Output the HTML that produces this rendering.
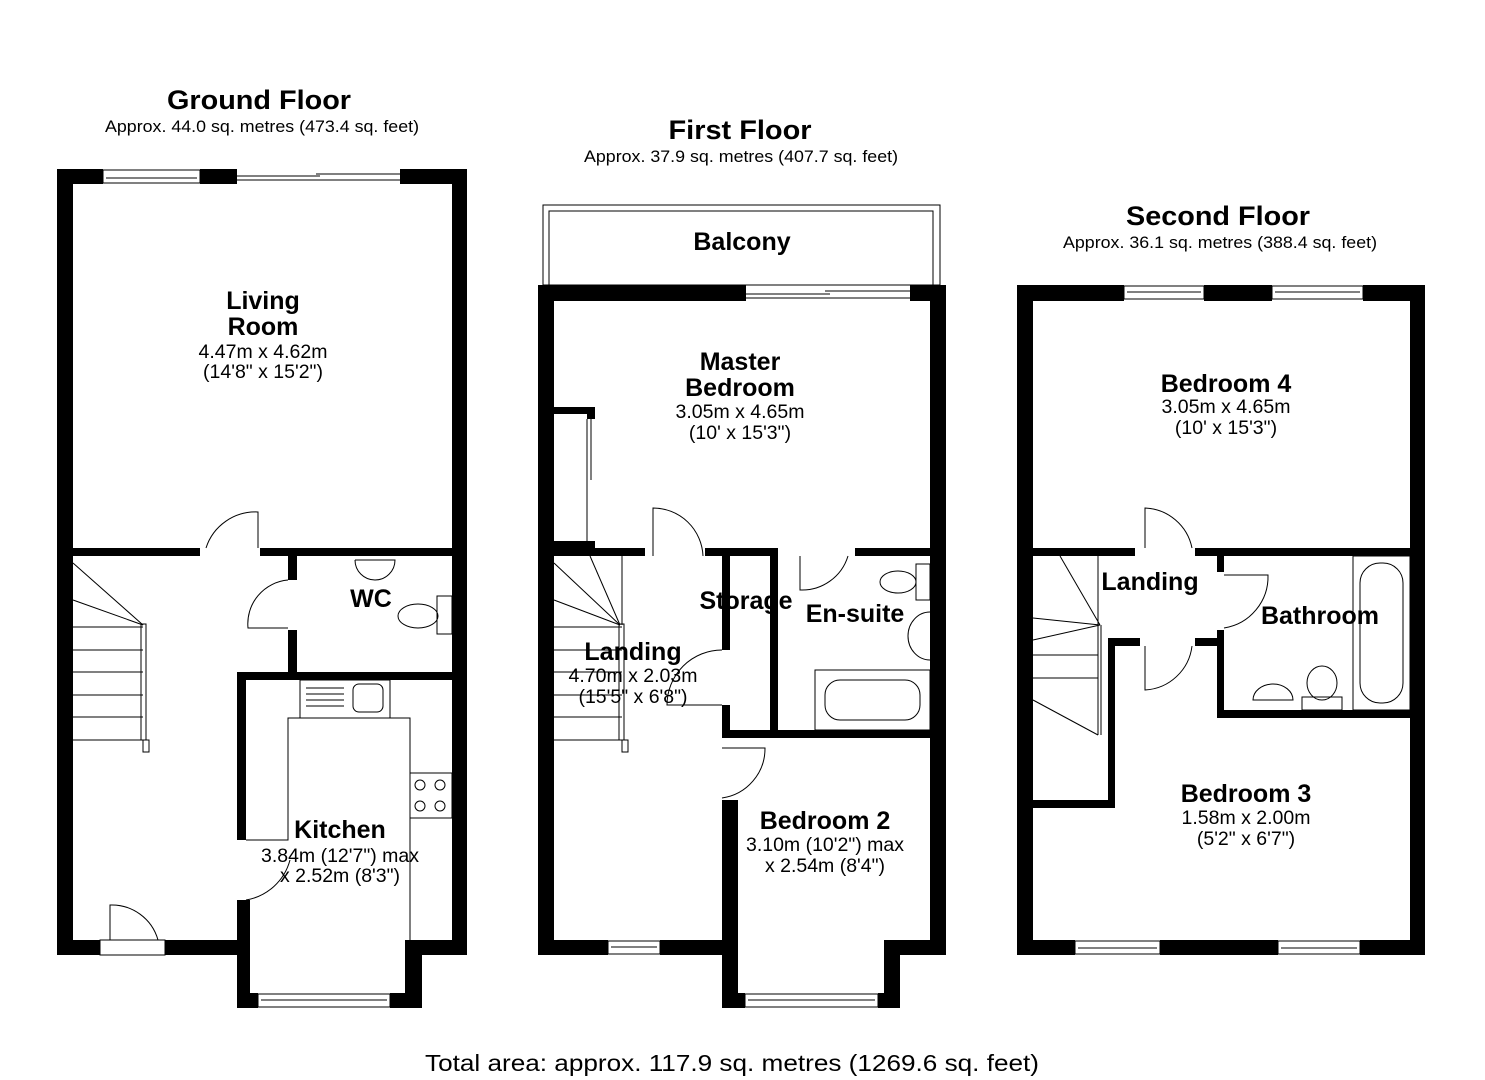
<!DOCTYPE html>
<html><head><meta charset="utf-8"><style>
body{margin:0;background:#fff}
svg{display:block}
text{font-family:"Liberation Sans",Arial,sans-serif;text-anchor:middle;fill:#000}
.t{font-weight:bold;font-size:27px}
.s{font-size:16.5px}
.r{font-weight:bold;font-size:25px}
.d{font-size:19.5px}
.w{fill:#000}
.ln{fill:none;stroke:#000;stroke-width:1}
.win{fill:#fff;stroke:#000;stroke-width:1}
</style></head><body>
<svg width="1485" height="1080" viewBox="0 0 1485 1080" xmlns="http://www.w3.org/2000/svg">
<!-- Titles -->
<text class="t" x="259" y="109" textLength="184" lengthAdjust="spacingAndGlyphs">Ground Floor</text>
<text class="s" x="262" y="132" textLength="314" lengthAdjust="spacingAndGlyphs">Approx. 44.0 sq. metres (473.4 sq. feet)</text>
<text class="t" x="740" y="139" textLength="143" lengthAdjust="spacingAndGlyphs">First Floor</text>
<text class="s" x="741" y="162" textLength="314" lengthAdjust="spacingAndGlyphs">Approx. 37.9 sq. metres (407.7 sq. feet)</text>
<text class="t" x="1218" y="225" textLength="184" lengthAdjust="spacingAndGlyphs">Second Floor</text>
<text class="s" x="1220" y="248" textLength="314" lengthAdjust="spacingAndGlyphs">Approx. 36.1 sq. metres (388.4 sq. feet)</text>
<text x="732" y="1071" style="font-size:23px" textLength="614" lengthAdjust="spacingAndGlyphs">Total area: approx. 117.9 sq. metres (1269.6 sq. feet)</text>

<!-- ================= GROUND FLOOR ================= -->
<g class="w">
<rect x="57" y="169" width="16" height="786"/>
<rect x="57" y="169" width="46" height="15"/>
<rect x="200" y="169" width="37" height="15"/>
<rect x="400" y="169" width="67" height="15"/>
<rect x="452" y="169" width="15" height="786"/>
<rect x="73" y="548" width="127" height="8"/>
<rect x="260" y="548" width="192" height="8"/>
<rect x="288" y="556" width="9" height="24"/>
<rect x="288" y="630" width="9" height="42"/>
<rect x="237" y="672" width="230" height="8"/>
<rect x="237" y="672" width="9" height="168"/>
<rect x="237" y="900" width="13" height="108"/>
<rect x="57" y="940" width="43" height="15"/>
<rect x="165" y="940" width="85" height="15"/>
<rect x="237" y="993" width="21" height="15"/>
<rect x="390" y="993" width="32" height="15"/>
<rect x="405" y="940" width="17" height="68"/>
<rect x="405" y="940" width="62" height="15"/>
</g>
<rect class="win" x="103" y="170" width="97" height="13"/><line class="ln" x1="106" y1="178" x2="197" y2="178"/>
<line class="ln" x1="237" y1="180" x2="400" y2="180"/><line class="ln" x1="237" y1="176" x2="320" y2="176"/><line class="ln" x1="316" y1="174" x2="400" y2="174"/>
<rect class="win" x="258" y="994" width="132" height="13"/><line class="ln" x1="261" y1="1000" x2="387" y2="1000"/>
<!-- doors GF -->
<path class="ln" d="M206 548 A52 52 0 0 1 258 512 L258 548"/>
<path class="ln" d="M288 580 A44 44 0 0 0 248 628 L288 628"/>
<path class="ln" d="M246 900 A55 55 0 0 0 290 860"/>
<path class="ln" d="M110 940 L110 905 A48 48 0 0 1 158 940"/>
<rect class="win" x="100" y="940" width="65" height="15"/>
<!-- stairs GF -->
<g class="ln">
<line x1="73" y1="627" x2="143" y2="627"/><line x1="73" y1="650" x2="143" y2="650"/><line x1="73" y1="672" x2="143" y2="672"/><line x1="73" y1="695" x2="143" y2="695"/><line x1="73" y1="717" x2="143" y2="717"/><line x1="73" y1="740" x2="143" y2="740"/>
<line x1="73" y1="563" x2="143" y2="625"/><line x1="73" y1="600" x2="143" y2="625"/>
<rect x="141" y="624" width="5" height="116"/><rect x="143" y="740" width="6" height="12"/>
</g>
<!-- WC fixtures -->
<path class="ln" d="M355 560 L395 560 A20 20 0 0 1 355 560"/>
<ellipse class="ln" cx="418" cy="616" rx="20" ry="12"/><rect class="ln" x="437" y="596" width="15" height="38"/>
<!-- Kitchen fixtures -->
<rect class="ln" x="300" y="680" width="90" height="38"/>
<rect class="ln" x="353" y="684" width="30" height="28" rx="6"/>
<g class="ln"><line x1="306" y1="688" x2="344" y2="688"/><line x1="306" y1="694" x2="344" y2="694"/><line x1="306" y1="700" x2="344" y2="700"/><line x1="306" y1="706" x2="344" y2="706"/></g>
<polyline class="ln" points="246,840 288,840 288,718 410,718 410,940"/>
<rect class="ln" x="410" y="773" width="42" height="45"/>
<circle class="ln" cx="420" cy="785" r="5"/><circle class="ln" cx="440" cy="785" r="5"/><circle class="ln" cx="420" cy="806" r="5"/><circle class="ln" cx="440" cy="806" r="5"/>
<text class="r" x="263" y="309">Living</text>
<text class="r" x="263" y="335">Room</text>
<text class="d" x="263" y="358">4.47m x 4.62m</text>
<text class="d" x="263" y="378">(14'8" x 15'2")</text>
<text class="r" x="371" y="607">WC</text>
<text class="r" x="340" y="838">Kitchen</text>
<text class="d" x="340" y="862">3.84m (12'7") max</text>
<text class="d" x="340" y="882">x 2.52m (8'3")</text>

<!-- ================= FIRST FLOOR ================= -->
<rect class="ln" x="543" y="205" width="397" height="80"/>
<polyline class="ln" points="549,285 549,211 933,211 933,285"/>
<g class="w">
<rect x="538" y="285" width="16" height="670"/>
<rect x="538" y="285" width="208" height="16"/>
<rect x="910" y="285" width="36" height="16"/>
<rect x="930" y="285" width="16" height="670"/>
<rect x="554" y="407" width="41" height="7"/>
<rect x="587" y="407" width="8" height="12"/>
<rect x="554" y="541" width="41" height="7"/>
<rect x="554" y="548" width="91" height="8"/>
<rect x="705" y="548" width="73" height="8"/>
<rect x="722" y="556" width="8" height="94"/>
<rect x="722" y="705" width="8" height="33"/>
<rect x="770" y="556" width="8" height="174"/>
<rect x="855" y="548" width="75" height="8"/>
<rect x="722" y="730" width="208" height="8"/>
<rect x="722" y="800" width="16" height="208"/>
<rect x="538" y="940" width="70" height="15"/>
<rect x="660" y="940" width="78" height="15"/>
<rect x="722" y="993" width="23" height="15"/>
<rect x="878" y="993" width="22" height="15"/>
<rect x="884" y="940" width="16" height="68"/>
<rect x="884" y="940" width="62" height="15"/>
</g>
<line class="ln" x1="746" y1="298" x2="910" y2="298"/><line class="ln" x1="746" y1="294" x2="830" y2="294"/><line class="ln" x1="825" y1="291" x2="910" y2="291"/>
<line class="ln" x1="587" y1="419" x2="587" y2="541"/><line class="ln" x1="591" y1="419" x2="591" y2="480"/>
<rect class="win" x="608" y="941" width="52" height="13"/><line class="ln" x1="611" y1="947" x2="657" y2="947"/>
<rect class="win" x="745" y="994" width="133" height="13"/><line class="ln" x1="748" y1="1000" x2="875" y2="1000"/>
<!-- doors FF -->
<path class="ln" d="M653 556 L653 508 A50 50 0 0 1 703 556"/>
<path class="ln" d="M800 556 L800 590 A48 48 0 0 0 848 556"/>
<path class="ln" d="M722 650 A55 55 0 0 0 667 705 L722 705"/>
<path class="ln" d="M722 748 L765 748 A50 50 0 0 1 722 798"/>
<!-- stairs FF -->
<g class="ln">
<line x1="554" y1="627" x2="622" y2="627"/><line x1="554" y1="650" x2="622" y2="650"/><line x1="554" y1="672" x2="622" y2="672"/><line x1="554" y1="695" x2="622" y2="695"/><line x1="554" y1="717" x2="622" y2="717"/><line x1="554" y1="740" x2="622" y2="740"/>
<line x1="554" y1="563" x2="620" y2="625"/><line x1="554" y1="600" x2="620" y2="625"/><line x1="590" y1="556" x2="620" y2="625"/>
<rect x="619" y="624" width="5" height="116"/><rect x="622" y="740" width="6" height="12"/>
<line x1="622" y1="556" x2="622" y2="625"/>
</g>
<!-- en-suite fixtures -->
<ellipse class="ln" cx="898" cy="582" rx="18" ry="11"/><rect class="ln" x="916" y="564" width="14" height="36"/>
<path class="ln" d="M930 612 A22 24 0 0 0 930 660"/>
<rect class="ln" x="815" y="670" width="115" height="60"/>
<rect class="ln" x="825" y="680" width="95" height="40" rx="15"/>
<text class="r" x="742" y="250">Balcony</text>
<text class="r" x="740" y="370">Master</text>
<text class="r" x="740" y="396">Bedroom</text>
<text class="d" x="740" y="418">3.05m x 4.65m</text>
<text class="d" x="740" y="439">(10' x 15'3")</text>
<text class="r" x="746" y="609">Storage</text>
<text class="r" x="855" y="622">En-suite</text>
<text class="r" x="633" y="660">Landing</text>
<text class="d" x="633" y="682">4.70m x 2.03m</text>
<text class="d" x="633" y="703">(15'5" x 6'8")</text>
<text class="r" x="825" y="829">Bedroom 2</text>
<text class="d" x="825" y="851">3.10m (10'2") max</text>
<text class="d" x="825" y="872">x 2.54m (8'4")</text>

<!-- ================= SECOND FLOOR ================= -->
<g class="w">
<rect x="1017" y="285" width="16" height="670"/>
<rect x="1017" y="285" width="107" height="16"/>
<rect x="1204" y="285" width="68" height="16"/>
<rect x="1363" y="285" width="62" height="16"/>
<rect x="1410" y="285" width="15" height="670"/>
<rect x="1033" y="548" width="102" height="8"/>
<rect x="1195" y="548" width="215" height="8"/>
<rect x="1217" y="556" width="7" height="16"/>
<rect x="1217" y="630" width="7" height="88"/>
<rect x="1217" y="710" width="193" height="8"/>
<rect x="1108" y="638" width="32" height="8"/>
<rect x="1195" y="638" width="22" height="8"/>
<rect x="1108" y="638" width="7" height="170"/>
<rect x="1033" y="800" width="82" height="8"/>
<rect x="1017" y="940" width="58" height="15"/>
<rect x="1160" y="940" width="118" height="15"/>
<rect x="1360" y="940" width="65" height="15"/>
</g>
<rect class="win" x="1124" y="286" width="80" height="13"/><line class="ln" x1="1127" y1="292" x2="1201" y2="292"/>
<rect class="win" x="1272" y="286" width="91" height="13"/><line class="ln" x1="1275" y1="292" x2="1360" y2="292"/>
<rect class="win" x="1075" y="941" width="85" height="13"/><line class="ln" x1="1078" y1="948" x2="1157" y2="948"/>
<rect class="win" x="1278" y="941" width="82" height="13"/><line class="ln" x1="1281" y1="948" x2="1357" y2="948"/>
<!-- doors SF -->
<path class="ln" d="M1145 548 L1145 508 A50 50 0 0 1 1192 548"/>
<path class="ln" d="M1224 575 L1268 575 A52 52 0 0 1 1224 628"/>
<path class="ln" d="M1145 646 L1145 690 A50 50 0 0 0 1192 646"/>
<!-- stairs SF -->
<g class="ln">
<line x1="1033" y1="618" x2="1100" y2="625"/><line x1="1033" y1="640" x2="1100" y2="625"/><line x1="1060" y1="556" x2="1100" y2="625"/>
<line x1="1033" y1="655" x2="1098" y2="655"/><line x1="1033" y1="678" x2="1098" y2="678"/>
<line x1="1033" y1="700" x2="1098" y2="735"/><line x1="1098" y1="625" x2="1098" y2="735"/><line x1="1101" y1="625" x2="1101" y2="735"/>
<line x1="1098" y1="556" x2="1098" y2="625"/>
</g>
<!-- bathroom fixtures -->
<rect class="ln" x="1353" y="556" width="57" height="154"/>
<rect class="ln" x="1360" y="563" width="43" height="140" rx="20"/>
<path class="ln" d="M1253 700 A20 16 0 0 1 1293 700 Z"/>
<ellipse class="ln" cx="1322" cy="683" rx="15" ry="17"/><rect class="ln" x="1302" y="697" width="40" height="13"/>
<text class="r" x="1226" y="392">Bedroom 4</text>
<text class="d" x="1226" y="413">3.05m x 4.65m</text>
<text class="d" x="1226" y="434">(10' x 15'3")</text>
<text class="r" x="1150" y="590">Landing</text>
<text class="r" x="1320" y="624">Bathroom</text>
<text class="r" x="1246" y="802">Bedroom 3</text>
<text class="d" x="1246" y="824">1.58m x 2.00m</text>
<text class="d" x="1246" y="845">(5'2" x 6'7")</text>
</svg>
</body></html>
